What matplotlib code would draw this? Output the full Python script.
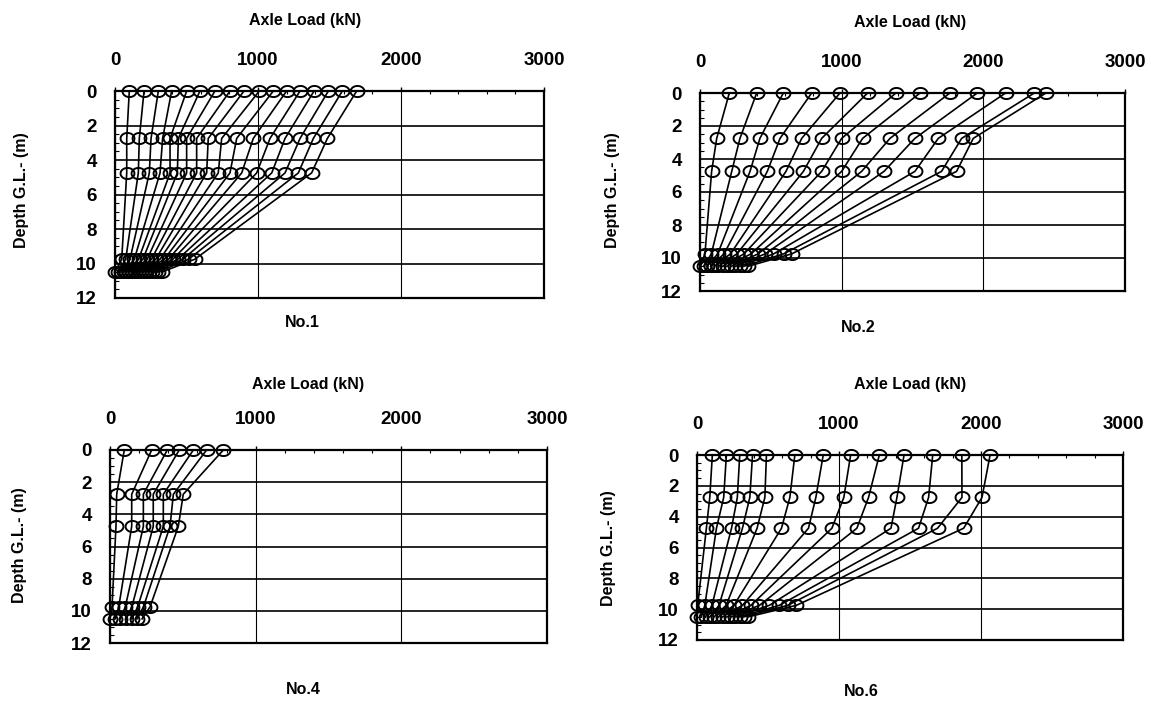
import numpy as np
import matplotlib.pyplot as plt
from matplotlib.path import Path
from matplotlib.ticker import MultipleLocator

plt.rcParams['font.family'] = ['Liberation Sans', 'DejaVu Sans']
plt.rcParams['font.weight'] = 'bold'

# depth of the gauge levels (m below G.L.)
depths = [0, 2.75, 4.75, 9.75, 10.5]

# No.1 : axial force (kN) at each gauge level, one entry per load step
no1_lv0 = [100, 203, 303, 396, 501, 594, 699, 804, 902, 1009, 1107, 1200, 1294, 1392, 1492, 1590, 1690]
no1_lv1 = [82, 170, 252, 333, 385, 443, 501, 571, 652, 746, 851, 967, 1084, 1189, 1294, 1387, 1485]
no1_lv2 = [82, 163, 240, 315, 385, 436, 501, 571, 641, 722, 804, 886, 991, 1096, 1189, 1282, 1375]
no1_lv3 = [47, 75, 105, 135, 165, 195, 225, 255, 285, 315, 345, 375, 405, 440, 475, 515, 559]
no1_lv4 = [0, 20, 40, 60, 80, 100, 120, 140, 160, 180, 200, 220, 240, 260, 280, 300, 326]

# No.2
no2_lv0 = [207, 400, 588, 788, 988, 1183, 1383, 1553, 1764, 1957, 2157, 2360, 2442]
no2_lv1 = [118, 282, 423, 565, 718, 859, 1000, 1148, 1341, 1517, 1682, 1847, 1929]
no2_lv2 = [82, 224, 353, 475, 607, 730, 859, 1000, 1141, 1299, 1517, 1705, 1811]
no2_lv3 = [35, 80, 125, 170, 215, 260, 310, 360, 410, 460, 520, 590, 647]
no2_lv4 = [0, 25, 50, 75, 100, 130, 160, 190, 220, 250, 280, 310, 340]

# No.4
no4_lv0 = [98, 286, 393, 475, 572, 663, 778]
no4_lv1 = [46, 149, 229, 297, 366, 435, 503]
no4_lv2 = [41, 149, 229, 297, 366, 412, 469]
no4_lv3 = [14, 60, 105, 150, 190, 230, 275]
no4_lv4 = [0, 35, 70, 110, 150, 185, 220]

# No.6
no6_lv0 = [108, 207, 301, 391, 489, 689, 889, 1082, 1284, 1458, 1660, 1865, 2064]
no6_lv1 = [90, 188, 284, 372, 478, 654, 837, 1034, 1208, 1408, 1631, 1866, 2007]
no6_lv2 = [66, 137, 243, 320, 423, 595, 785, 950, 1126, 1366, 1560, 1694, 1878]
no6_lv3 = [5, 55, 105, 155, 205, 260, 320, 380, 440, 510, 580, 640, 700]
no6_lv4 = [0, 30, 60, 90, 120, 150, 180, 210, 240, 270, 300, 330, 360]

x_ticks = [0, 1000, 2000, 3000]
y_ticks = [0, 2, 4, 6, 8, 10, 12]

W, H = 1151, 704

# slightly flattened circle, like the printed symbols
_t = np.linspace(0, 2 * np.pi, 60)
oval = Path(np.column_stack([np.cos(_t), 0.8 * np.sin(_t)]), closed=True)


def px_rect(l, t, r, b):
    return [l / W, 1 - b / H, (r - l) / W, (b - t) / H]


def draw_panel(fig, rect, levels, name, xlab_pos, name_pos, ylab_pos):
    ax = fig.add_axes(px_rect(*rect))
    n = len(levels[0])
    for i in range(n):
        xs = [lv[i] for lv in levels]
        ax.plot(xs, depths, color='k', lw=1.2, marker=oval, ms=10,
                mfc='none', mec='k', mew=1.4, clip_on=False, zorder=3)
    ax.set_xlim(0, 3000)
    ax.set_ylim(12, 0)
    ax.xaxis.tick_top()
    ax.set_xticks(x_ticks)
    ax.set_yticks(y_ticks)
    ax.xaxis.set_minor_locator(MultipleLocator(200))
    ax.yaxis.set_minor_locator(MultipleLocator(0.5))
    ax.tick_params(axis='x', which='major', direction='out', length=3, pad=13,
                   labelsize=13.5, width=1)
    ax.tick_params(axis='x', which='minor', direction='in', length=2.5, width=0.8)
    ax.tick_params(axis='y', which='major', length=0, pad=13, labelsize=13.5)
    ax.tick_params(axis='y', which='minor', direction='in', length=3, width=0.8)
    ax.grid(axis='y', which='major', color='k', lw=1.2)
    ax.grid(axis='x', which='major', color='k', lw=0.8)
    ax.set_axisbelow(True)
    for s in ax.spines.values():
        s.set_linewidth(1.6)
    fig.text(xlab_pos[0] / W, 1 - xlab_pos[1] / H, 'Axle Load (kN)',
             ha='center', va='center', fontsize=11.5)
    fig.text(name_pos[0] / W, 1 - name_pos[1] / H, name,
             ha='center', va='center', fontsize=11.5)
    fig.text(ylab_pos[0] / W, 1 - ylab_pos[1] / H, 'Depth G.L.- (m)',
             ha='center', va='center', rotation=90, fontsize=11.5)
    return ax


fig = plt.figure(figsize=(W / 100, H / 100), dpi=100)

draw_panel(fig, (115, 91, 544, 298),
           [no1_lv0, no1_lv1, no1_lv2, no1_lv3, no1_lv4], 'No.1',
           (305, 20), (302, 323), (22, 190))
draw_panel(fig, (700, 93, 1125, 291),
           [no2_lv0, no2_lv1, no2_lv2, no2_lv3, no2_lv4], 'No.2',
           (910, 22), (858, 328), (612, 190))
draw_panel(fig, (110, 450, 547, 643),
           [no4_lv0, no4_lv1, no4_lv2, no4_lv3, no4_lv4], 'No.4',
           (308, 385), (303, 690), (20, 545))
draw_panel(fig, (697, 455, 1123, 640),
           [no6_lv0, no6_lv1, no6_lv2, no6_lv3, no6_lv4], 'No.6',
           (910, 384), (861, 692), (608, 548))

fig.savefig('out.png', dpi=100)
